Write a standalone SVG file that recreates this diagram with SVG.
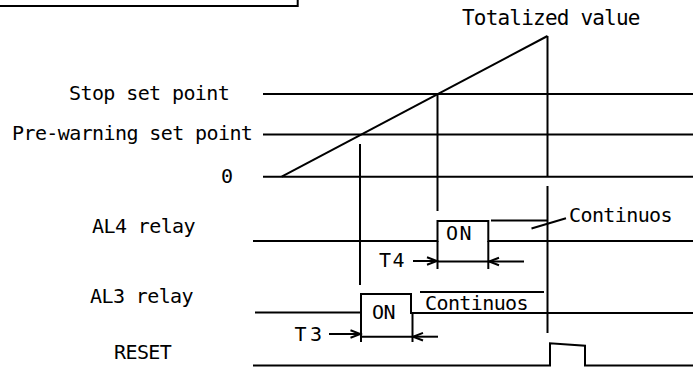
<svg xmlns="http://www.w3.org/2000/svg" width="693" height="367" viewBox="0 0 693 367">
<style>
  .ln { stroke: #000; stroke-width: 2; fill: none; }
  .tx { font-family: "DejaVu Sans Mono", "Liberation Mono", monospace; font-size: 20px; letter-spacing: -0.6px; fill: #000; }
  .arr { stroke: #000; stroke-width: 2; fill: none; marker-end: url(#open); }
</style>
<defs>
  <marker id="open" markerUnits="userSpaceOnUse" viewBox="-12 -6 14 12" refX="0" refY="0" markerWidth="14" markerHeight="12" orient="auto">
    <path d="M-10,-3.8 L0,0 L-10,3.8" stroke="#000" stroke-width="2" fill="none"/>
  </marker>
</defs>
<rect width="693" height="367" fill="#fff"/>

<g id="frame">
  <path class="ln" d="M0,6 H297.7 V-2"/>
</g>

<g id="labels">
  <text class="tx" x="462" y="25" style="font-size:21px;letter-spacing:-0.8px">Totalized value</text>
  <text class="tx" x="69" y="99.5">Stop set point</text>
  <text class="tx" x="12" y="139.5">Pre-warning set point</text>
  <text class="tx" x="221" y="183">0</text>
  <text class="tx" x="92" y="233">AL4 relay</text>
  <text class="tx" x="90" y="302.5">AL3 relay</text>
  <text class="tx" x="114" y="359">RESET</text>
</g>

<g id="levels">
  <line class="ln" x1="263" y1="94" x2="693" y2="94"/>
  <line class="ln" x1="263" y1="134.5" x2="693" y2="134.5"/>
  <line class="ln" x1="263" y1="176.7" x2="693" y2="176.7"/>
  <line class="ln" x1="281.7" y1="176.7" x2="547.5" y2="36"/>
</g>

<g id="markers">
  <line class="ln" x1="360" y1="144" x2="360" y2="285"/>
  <line class="ln" x1="437.5" y1="94" x2="437.5" y2="211"/>
  <line class="ln" x1="547.5" y1="36" x2="547.5" y2="176.7"/>
  <line class="ln" x1="547.5" y1="186" x2="547.5" y2="333"/>
</g>

<g id="al4">
  <path class="ln" d="M253,241 H437.5 V221 H488.3 V241 H693"/>
  <line class="ln" x1="491" y1="220.5" x2="548" y2="220.5"/>
  <line class="ln" x1="531.5" y1="228.5" x2="566" y2="218.3"/>
  <text class="tx" x="446" y="240" style="letter-spacing:1.5px">ON</text>
  <text class="tx" x="569" y="222">Continuos</text>
  <line class="ln" x1="437.5" y1="241" x2="437.5" y2="269"/>
  <line class="ln" x1="488.3" y1="241" x2="488.3" y2="269"/>
  <line class="ln" x1="437.5" y1="261.5" x2="488.3" y2="261.5"/>
  <line class="arr" x1="413" y1="261" x2="437" y2="261"/>
  <line class="arr" x1="524" y1="261.5" x2="489" y2="261.5"/>
  <text class="tx" x="379" y="267" style="letter-spacing:1.5px">T4</text>
</g>

<g id="al3">
  <path class="ln" d="M255,312.5 H361 V294 H411 V313 H693"/>
  <line class="ln" x1="420" y1="292" x2="544" y2="292"/>
  <text class="tx" x="372" y="318.5">ON</text>
  <text class="tx" x="425" y="309.5">Continuos</text>
  <line class="ln" x1="361" y1="313" x2="361" y2="342"/>
  <line class="ln" x1="412.5" y1="313" x2="412.5" y2="342"/>
  <line class="ln" x1="361" y1="336.7" x2="412.5" y2="336.7"/>
  <line class="arr" x1="329" y1="334" x2="360.5" y2="334"/>
  <line class="arr" x1="438" y1="336.7" x2="413" y2="336.7"/>
  <text class="tx" x="294.5" y="341" style="letter-spacing:3.5px">T3</text>
</g>

<g id="reset">
  <path class="ln" d="M253,365.5 H550 V343.3 L585,345.7 V365.5 H693"/>
</g>
</svg>
